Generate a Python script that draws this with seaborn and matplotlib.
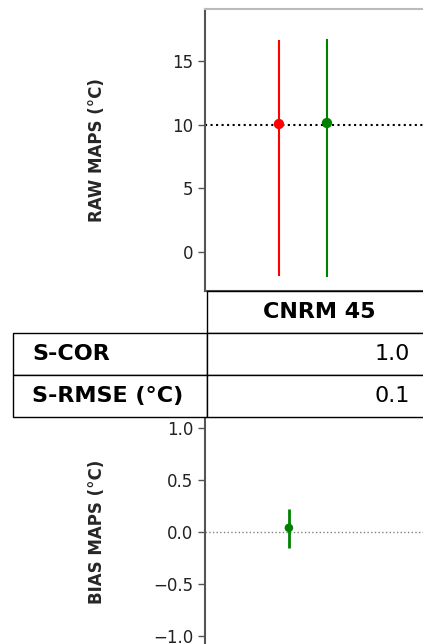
import matplotlib
matplotlib.use("Agg")
import matplotlib.pyplot as plt
from matplotlib.table import Table
import seaborn as sns

# values
raw_models = ["OBS", "CNRM 45"]
raw_colors = ["red", "green"]
raw_mean = [10.05, 10.13]
raw_low = [-1.9, -1.95]
raw_high = [16.65, 16.7]
raw_ref = 9.98

bias_models = ["CNRM 45"]
bias_mean = [0.04]
bias_low = [-0.155]
bias_high = [0.22]

score_names = ["S-COR", "S-RMSE (°C)"]
score_values = ["1.0", "0.1"]
table_header = "CNRM 45"

sns.set_style("white")
plt.rcParams['font.family'] = ['DejaVu Sans']

W, H = 423, 644
fig = plt.figure(figsize=(W / 100, H / 100), dpi=100)


def px_box(left, top, right, bottom):
    return [left / W, (H - bottom) / H, (right - left) / W, (bottom - top) / H]


spine_col = "#555555"

# ---- raw maps panel
ax1 = fig.add_axes(px_box(205, 9, 567, 291))
xs = list(range(len(raw_models)))
ax1.axhline(raw_ref, color="black", ls=":", lw=1.5, zorder=1)
ax1.vlines(xs, raw_low, raw_high, colors=raw_colors, lw=1.5, zorder=2)
sns.scatterplot(x=xs, y=raw_mean, hue=raw_models, palette=raw_colors,
                s=55, edgecolor="none", legend=False, ax=ax1, zorder=3)
ax1.set_xlim(-1.54, 6.0)
ax1.set_ylim(-3.06, 19.08)
ax1.set_yticks([0, 5, 10, 15])
ax1.set_xticks([])
ax1.set_ylabel("RAW MAPS (°C)", fontsize=12, fontweight="bold")
ax1.yaxis.set_label_coords((106 - 205) / (567 - 205), 0.5)

# ---- bias maps panel
ax2 = fig.add_axes(px_box(205, 417, 567, 647))
bx = list(range(len(bias_models)))
ax2.axhline(0, color="grey", ls=":", lw=1, zorder=1)
ax2.vlines(bx, bias_low, bias_high, colors="green", lw=2, zorder=2)
sns.scatterplot(x=bx, y=bias_mean, color="green", s=38, edgecolor="none",
                legend=False, ax=ax2, zorder=3)
ax2.set_xlim(-1.75, 5.8)
ax2.set_ylim(-1.11, 1.11)
ax2.set_yticks([-1.0, -0.5, 0.0, 0.5, 1.0])
ax2.set_xticks([])
ax2.set_ylabel("BIAS MAPS (°C)", fontsize=12, fontweight="bold")
ax2.yaxis.set_label_coords((106 - 205) / (567 - 205), 0.5)

for ax in (ax1, ax2):
    ax.tick_params(axis="y", labelsize=12, left=True, length=5, width=1,
                   color=spine_col, labelcolor="#222222")
    for side, sp in ax.spines.items():
        sp.set_color(spine_col)
        sp.set_linewidth(1.5)
ax1.spines["top"].set_color("#bbbbbb")

# ---- score table (axes covers the value column, labels hang to the left)
tax = fig.add_axes(px_box(207, 291, 432, 417))
tax.set_axis_off()
tab = Table(tax, bbox=[0, 0, 1, 1])
lab_w, val_w, row_h = 194 / 225, 1.0, 1 / 3
tab.add_cell(0, 0, width=val_w, height=row_h, text=table_header, loc="center")
for i, (name, val) in enumerate(zip(score_names, score_values), start=1):
    tab.add_cell(i, -1, width=lab_w, height=row_h, text=name, loc="left")
    tab.add_cell(i, 0, width=val_w, height=row_h, text=val, loc="right")
tab.auto_set_font_size(False)
tab.set_fontsize(16)
for (r, c), cell in tab.get_celld().items():
    cell.set_edgecolor("black")
    cell.set_linewidth(1)
    cell.get_text().set_color("black")
    if r == 0 or c == -1:
        cell.get_text().set_fontweight("bold")
tax.add_table(tab)

fig.savefig("out.png", dpi=100)
